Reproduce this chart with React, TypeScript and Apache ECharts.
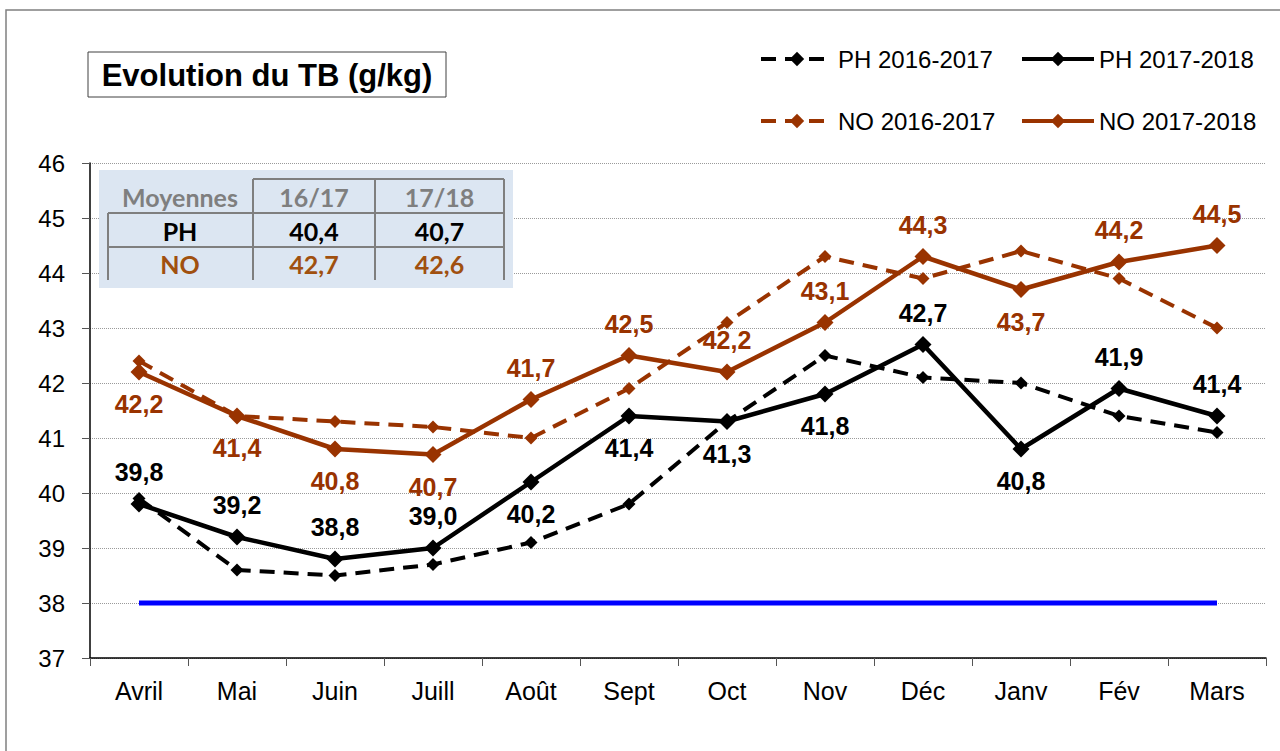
import React, { useEffect, useRef } from 'react';
import * as echarts from 'echarts';

const months = ['Avril', 'Mai', 'Juin', 'Juill', 'Août', 'Sept', 'Oct', 'Nov', 'Déc', 'Janv', 'Fév', 'Mars'];
const ph1617 = [39.9, 38.6, 38.5, 38.7, 39.1, 39.8, 41.3, 42.5, 42.1, 42.0, 41.4, 41.1];
const ph1718 = [39.8, 39.2, 38.8, 39.0, 40.2, 41.4, 41.3, 41.8, 42.7, 40.8, 41.9, 41.4];
const no1617 = [42.4, 41.4, 41.3, 41.2, 41.0, 41.9, 43.1, 44.3, 43.9, 44.4, 43.9, 43.0];
const no1718 = [42.2, 41.4, 40.8, 40.7, 41.7, 42.5, 42.2, 43.1, 44.3, 43.7, 44.2, 44.5];
const reference = [38, 38, 38, 38, 38, 38, 38, 38, 38, 38, 38, 38];

const seriesNames = ['PH 2016-2017', 'PH 2017-2018', 'NO 2016-2017', 'NO 2017-2018'];

const tableHeader = ['Moyennes', '16/17', '17/18'];
const tableRows = [
  ['PH', '40,4', '40,7'],
  ['NO', '42,7', '42,6'],
];

const titleText = 'Evolution du TB (g/kg)';

// label placement (above / below each point)
const phLabelPos = ['top', 'top', 'top', 'top', 'bottom', 'bottom', 'bottom', 'bottom', 'top', 'bottom', 'top', 'top'];
const noLabelPos = ['bottom', 'bottom', 'bottom', 'bottom', 'top', 'top', 'top', 'top', 'top', 'bottom', 'top', 'top'];

const BLACK = '#000000';
const BROWN = '#993300';
const TABLE_BROWN = '#A0500F';
const GRAY = '#7F7F7F';
const FONT = '"Liberation Sans", Arial, sans-serif';
const TFONT = 'Lato, "Noto Sans", sans-serif';

const fmt = (v: number) => v.toFixed(1).replace('.', ',');

export default function App() {
  const ref = useRef<HTMLDivElement>(null);

  useEffect(() => {
    document.body.style.margin = '0';
    if (!ref.current) return;
    const chart = echarts.init(ref.current, undefined, { renderer: 'svg' });

    const labelled = (vals: number[], pos: string[]) =>
      vals.map((v, i) => ({ value: v, label: { position: pos[i] } }));

    // table graphic
    const tx0 = 108, tx1 = 253, tx2 = 375, tx3 = 504;
    const ty0 = 179, ty1 = 213, ty2 = 247, ty3 = 280;
    const lineStyle = { stroke: GRAY, lineWidth: 2 };
    const colCenters = [180, (tx1 + tx2) / 2, (tx2 + tx3) / 2];
    const rowCenters = [197, 231, 264];
    const rowColors = [BLACK, TABLE_BROWN];

    const tableEls: any[] = [
      { type: 'rect', shape: { x: 99, y: 170, width: 414, height: 118 }, style: { fill: '#DCE6F2' }, z: 10 },
      { type: 'line', shape: { x1: tx1, y1: ty0, x2: tx3, y2: ty0 }, style: lineStyle, z: 11 },
      { type: 'line', shape: { x1: tx0, y1: ty1, x2: tx3, y2: ty1 }, style: lineStyle, z: 11 },
      { type: 'line', shape: { x1: tx0, y1: ty2, x2: tx3, y2: ty2 }, style: lineStyle, z: 11 },
      { type: 'line', shape: { x1: tx0, y1: ty1, x2: tx0, y2: ty3 }, style: lineStyle, z: 11 },
      { type: 'line', shape: { x1: tx1, y1: ty0, x2: tx1, y2: ty3 }, style: lineStyle, z: 11 },
      { type: 'line', shape: { x1: tx2, y1: ty0, x2: tx2, y2: ty3 }, style: lineStyle, z: 11 },
      { type: 'line', shape: { x1: tx3, y1: ty0, x2: tx3, y2: ty3 }, style: lineStyle, z: 11 },
    ];
    tableHeader.forEach((h, i) => {
      tableEls.push({
        type: 'text', x: colCenters[i], y: rowCenters[0], z: 12,
        style: { text: h, fill: GRAY, fontSize: 25, fontWeight: 'bold', fontFamily: TFONT, align: 'center', verticalAlign: 'middle' },
      });
    });
    tableRows.forEach((row, r) => {
      row.forEach((cell, i) => {
        tableEls.push({
          type: 'text', x: colCenters[i], y: rowCenters[r + 1], z: 12,
          style: { text: cell, fill: rowColors[r], fontSize: 25, fontWeight: 'bold', fontFamily: TFONT, align: 'center', verticalAlign: 'middle' },
        });
      });
    });

    const labelCommon = {
      show: true,
      fontSize: 25,
      fontWeight: 'bold',
      fontFamily: FONT,
      distance: 11,
      formatter: (p: any) => fmt(p.value),
    };

    const legendCommon = {
      orient: 'horizontal',
      itemWidth: 72,
      itemHeight: 18,
      padding: 0,
      textStyle: { fontSize: 24, color: BLACK, fontFamily: FONT },
      lineStyle: { width: 4 },
      selectedMode: false,
    };

    const option: any = {
      animation: false,
      backgroundColor: '#ffffff',
      grid: { left: 90, top: 163, width: 1176, height: 495, containLabel: false },
      legend: [
        { ...legendCommon, data: [seriesNames[0]], left: 759, top: 47 },
        { ...legendCommon, data: [seriesNames[1]], left: 1020, top: 47 },
        { ...legendCommon, data: [seriesNames[2]], left: 759, top: 109 },
        { ...legendCommon, data: [seriesNames[3]], left: 1020, top: 109 },
      ],
      xAxis: {
        type: 'category',
        data: months,
        boundaryGap: true,
        axisLine: { lineStyle: { color: BLACK, width: 1.5 } },
        axisTick: { show: true, length: 8, lineStyle: { color: '#555', width: 1 }, alignWithLabel: false },
        axisLabel: { fontSize: 25, color: BLACK, fontFamily: FONT, margin: 20 },
        splitLine: { show: false },
      },
      yAxis: {
        type: 'value',
        min: 37,
        max: 46,
        interval: 1,
        axisLine: { show: true, lineStyle: { color: BLACK, width: 1.5 } },
        axisTick: { show: true, length: 8, lineStyle: { color: '#555', width: 1 } },
        axisLabel: { fontSize: 24, color: BLACK, fontFamily: FONT, margin: 25 },
        splitLine: { show: true, lineStyle: { color: '#9a9a9a', type: 'dotted', width: 1 } },
      },
      graphic: [
        { type: 'rect', shape: { x: 6, y: 10, width: 1300, height: 800 }, style: { fill: 'none', stroke: '#808080', lineWidth: 1.5 }, z: 1, silent: true },
        { type: 'rect', shape: { x: 88, y: 52, width: 358, height: 45 }, style: { fill: '#ffffff', stroke: '#404040', lineWidth: 1 }, z: 10 },
        {
          type: 'text', x: 267, y: 75, z: 11,
          style: { text: titleText, fill: BLACK, fontSize: 31, fontWeight: 'bold', fontFamily: FONT, align: 'center', verticalAlign: 'middle' },
        },
        ...tableEls,
      ],
      series: [
        {
          name: 'Référence',
          type: 'line',
          data: reference,
          showSymbol: false,
          symbol: 'none',
          lineStyle: { color: '#0000FF', width: 5 },
          itemStyle: { color: '#0000FF' },
          silent: true,
          z: 1,
        },
        {
          name: seriesNames[0],
          type: 'line',
          data: ph1617,
          symbol: 'diamond',
          symbolSize: 13,
          lineStyle: { color: BLACK, width: 4, type: [15, 9] },
          itemStyle: { color: BLACK },
          z: 2,
        },
        {
          name: seriesNames[2],
          type: 'line',
          data: no1617,
          symbol: 'diamond',
          symbolSize: 13,
          lineStyle: { color: BROWN, width: 4, type: [15, 9] },
          itemStyle: { color: BROWN },
          z: 2,
        },
        {
          name: seriesNames[1],
          type: 'line',
          data: labelled(ph1718, phLabelPos),
          symbol: 'diamond',
          symbolSize: 17,
          lineStyle: { color: BLACK, width: 4.5 },
          itemStyle: { color: BLACK },
          label: { ...labelCommon, color: BLACK },
          z: 3,
        },
        {
          name: seriesNames[3],
          type: 'line',
          data: labelled(no1718, noLabelPos),
          symbol: 'diamond',
          symbolSize: 17,
          lineStyle: { color: BROWN, width: 4.5 },
          itemStyle: { color: BROWN },
          label: { ...labelCommon, color: BROWN },
          z: 3,
        },
      ],
    };

    chart.setOption(option);
    return () => chart.dispose();
  }, []);

  return <div ref={ref} style={{ width: 1280, height: 751 }} />;
}
